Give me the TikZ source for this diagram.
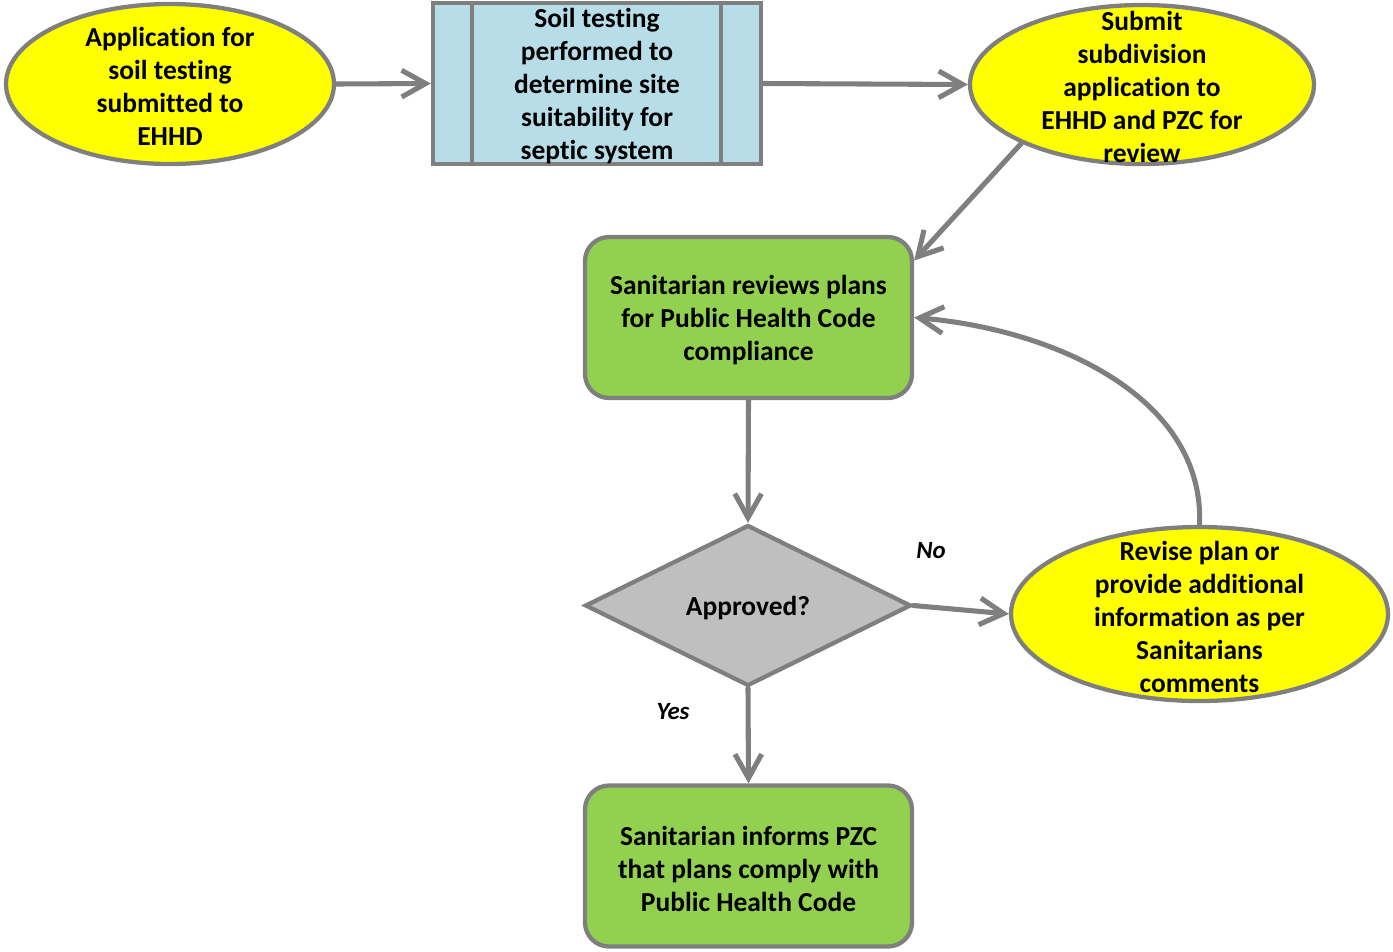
\documentclass[tikz,border=0pt]{standalone}
\usepackage{fontspec}
\setmainfont{Carlito}[Ligatures=CommonOff]
\usetikzlibrary{shapes.geometric,arrows.meta}
\definecolor{edgegray}{HTML}{7F7F7F}
\definecolor{ovalyellow}{HTML}{FFFF00}
\definecolor{procblue}{HTML}{B7DDE8}
\definecolor{stepgreen}{HTML}{92D050}
\definecolor{decgray}{HTML}{BFBFBF}
\tikzset{
  shapeline/.style={draw=edgegray, line width=3.2pt},
  oval/.style={shapeline, ellipse, fill=ovalyellow, inner sep=0pt},
  procbox/.style={shapeline, rectangle, fill=procblue, inner sep=0pt,
    minimum width=246pt, minimum height=120.75pt},
  greenbox/.style={shapeline, rectangle, rounded corners=18pt, fill=stepgreen,
    inner sep=0pt, minimum width=245.25pt, minimum height=120.75pt},
  decision/.style={shapeline, diamond, fill=decgray, inner sep=0pt,
    minimum width=244.5pt, minimum height=120.75pt},
  txt/.style={font=\fontsize{20.6}{24.75}\selectfont\bfseries, align=center,
    inner sep=0pt, yshift=-2pt},
  branch/.style={font=\fontsize{18.6}{22}\selectfont\bfseries\itshape, inner sep=0pt},
  conn/.style={draw=edgegray, line width=3.8pt, line cap=round,
    -{Straight Barb[length=18pt,width=20pt]}},
}
\begin{document}
\begin{tikzpicture}[x=0.75pt,y=-0.75pt]
\useasboundingbox (0,0) rectangle (1393,951);

% shapes
\node[oval, minimum width=246pt, minimum height=120pt] (app) at (170,84) {};
\node[procbox] (soil) at (597,83.5) {};
\draw[shapeline] (472,1) -- (472,166) (721,1) -- (721,166);
\node[oval, minimum width=258pt, minimum height=119.25pt] (sub) at (1142,84.5) {};
\node[greenbox] (review) at (748.5,317.5) {};
\node[decision] (appr) at (748,605.5) {};
\node[oval, minimum width=282.75pt, minimum height=130.5pt] (revise) at (1199.5,614) {};
\node[greenbox] (inform) at (748.5,866) {};

% texts
\node[txt] at (app) {Application for\\soil testing\\submitted to\\EHHD};
\node[txt] at (soil) {Soil testing\\performed to\\determine site\\suitability for\\septic system};
\node[txt] at (sub) {Submit\\subdivision\\application to\\EHHD and PZC for\\review};
\node[txt] at (review) {Sanitarian reviews plans\\for Public Health Code\\compliance};
\node[txt] at (appr) {Approved?};
\node[txt] at (revise) {Revise plan or\\provide additional\\information as per\\Sanitarians\\comments};
\node[txt] at (inform) {Sanitarian informs PZC\\that plans comply with\\Public Health Code};

% branch labels
\node[branch] (nolab) at (931,551) {No};
\node[branch] (yeslab) at (673,712) {Yes};

% connectors
\draw[conn] (app.east) -- (soil.west);
\draw[conn] (soil.east) -- (sub.west);
\draw[conn] (sub.206.6) -- (review.19.8);
\draw[conn] (review.south) -- (appr.north);
\draw[conn] (appr.east) -- (revise.west);
\draw[conn] (appr.south) -- (inform.north);
\draw[conn] (revise.north) .. controls (1205,400) and (1060,330) .. (review.east);
\end{tikzpicture}
\end{document}
